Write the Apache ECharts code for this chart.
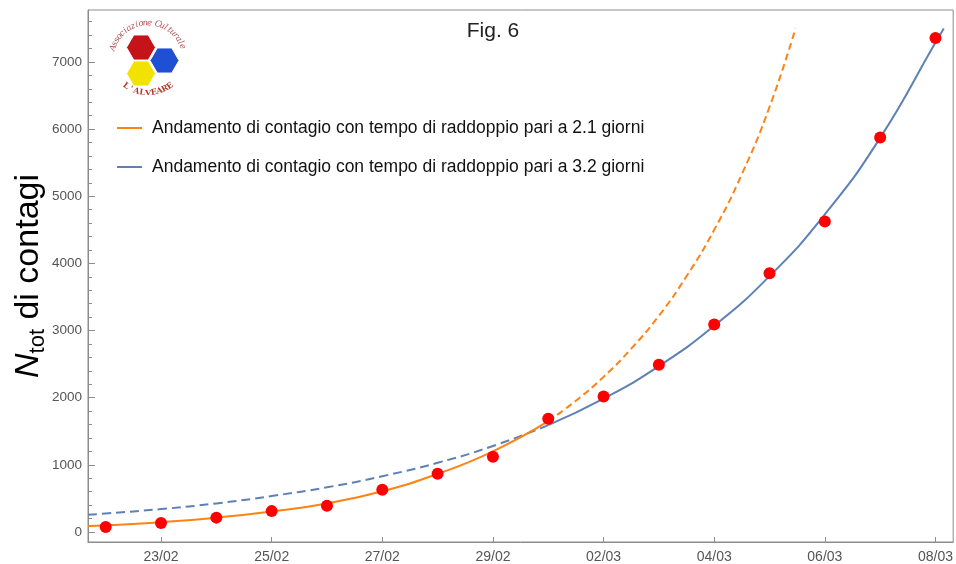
<!DOCTYPE html>
<html><head><meta charset="utf-8">
<script src="https://cdn.jsdelivr.net/npm/echarts@6/dist/echarts.min.js"></script>
<style>html,body{margin:0;padding:0;background:#fff}#chart{width:956px;height:564px}</style>
</head><body><div id="chart"></div>
<script>
// ---- data ----
const dateLabels = ['22/02','23/02','24/02','25/02','26/02','27/02','28/02','29/02','01/03','02/03','03/03','04/03','05/03','06/03','07/03','08/03'];
const tickDays = [1, 3, 5, 7, 9, 11, 13, 15];
const yTickValues = [0, 1000, 2000, 3000, 4000, 5000, 6000, 7000];
const caseDays = [0, 1, 2, 3, 4, 5, 6, 7, 8, 9, 10, 11, 12, 13, 14, 15];
const cases = [74, 133, 213, 310, 390, 627, 867, 1119, 1685, 2016, 2489, 3089, 3853, 4626, 5877, 7359];

const orangeSolidX = [-0.32, 0, 1, 2, 3, 4, 5, 6, 7, 8];
const orangeSolidY = [88, 98, 145, 213, 305, 425, 605, 865, 1200, 1650];
const orangeDashX = [8, 8.5, 9, 9.5, 10, 10.5, 11, 11.5, 12, 12.47];
const orangeDashY = [1650, 1955, 2310, 2730, 3220, 3810, 4500, 5330, 6330, 7500];

const blueDashX = [-0.32, 0, 1, 2, 3, 4, 5, 6, 7, 8];
const blueDashY = [255, 275, 340, 425, 535, 665, 830, 1030, 1280, 1590];
const blueSolidX = [8, 9, 10, 11, 12, 13, 14, 15, 15.15];
const blueSolidY = [1590, 1985, 2470, 3070, 3810, 4730, 5870, 7290, 7500];

const nameOrange = 'Andamento di contagio con tempo di raddoppio pari a 2.1 giorni';
const nameBlue = 'Andamento di contagio con tempo di raddoppio pari a 3.2 giorni';

// ---- helpers ----
const zip = (xs, ys) => xs.map((x, i) => [x, ys[i]]);
const ORANGE = '#ff8214', BLUE = '#5e81b5', RED = '#ff0000', AXIS = '#8c8c8c', LABEL = '#555';

const minorY = [];
for (let v = 0; v <= 7600; v += 200) if (v % 1000 !== 0) minorY.push(v);

function hexagon(cx, cy, r, color) {
  const pts = [];
  for (let k = 0; k < 6; k++) { const a = Math.PI / 3 * k; pts.push([cx + r * Math.cos(a), cy + r * Math.sin(a)]); }
  return { type: 'polygon', shape: { points: pts }, style: { fill: color, stroke: '#fff', lineWidth: 1 }, z: 10 };
}
function arcText(str, cx, cy, R, a0, a1, top, font, color) {
  const els = []; const n = str.length;
  for (let i = 0; i < n; i++) {
    const t = a0 + (a1 - a0) * (i + 0.5) / n;
    let x, y, rot;
    if (top) { x = cx + R * Math.sin(t); y = cy - R * Math.cos(t); rot = -t; }
    else { x = cx + R * Math.sin(t); y = cy + R * Math.cos(t); rot = t; }
    els.push({ type: 'text', x: x, y: y, rotation: rot, z: 10,
      style: { text: str[i], font: font, fill: color, align: 'center', verticalAlign: 'middle' } });
  }
  return els;
}
const deg = Math.PI / 180;

const logo = [].concat(
  [hexagon(141, 47.5, 14.5, '#c4141a'), hexagon(164.5, 60.5, 14.5, '#1f4fd3'), hexagon(141, 73.5, 14.5, '#f2e200')],
  arcText('Associazione Culturale', 148, 60, 37, -74 * deg, 72 * deg, true, 'italic 8.5px "DejaVu Serif"', '#b25252'),
  arcText("L'ALVEARE", 148, 55, 38, -40 * deg, 40 * deg, false, 'bold 8px "DejaVu Serif"', '#b3392f')
);

const chart = echarts.init(document.getElementById('chart'), null, { renderer: 'canvas' });
chart.setOption({
  animation: false,
  backgroundColor: '#fff',
  textStyle: { fontFamily: '"Liberation Sans", Arial, sans-serif' },
  grid: { left: 88, top: 10, width: 867, height: 536, show: true, borderColor: AXIS, borderWidth: 1, containLabel: false },
  legend: {
    orient: 'vertical', left: 117, top: 118, padding: 0, itemWidth: 25, itemHeight: 2, itemGap: 19,
    textStyle: { fontSize: 17.5, color: '#111', lineHeight: 20, padding: [0, 0, 0, 5] },
    data: [{ name: nameOrange, icon: 'rect' }, { name: nameBlue, icon: 'rect' }]
  },
  xAxis: {
    type: 'value', min: -0.32, max: 15.32,
    axisLine: { show: true, onZero: false, lineStyle: { color: AXIS, width: 1 } },
    splitLine: { show: false },
    axisTick: { show: true, inside: true, length: 5, lineStyle: { color: AXIS }, customValues: tickDays },
    axisLabel: { customValues: tickDays, fontSize: 14, color: LABEL, margin: 8,
      formatter: v => dateLabels[Math.round(v)] }
  },
  yAxis: [{
    type: 'value', min: -150, max: 7775, position: 'left',
    axisLine: { show: true, onZero: false, lineStyle: { color: AXIS, width: 1 } },
    splitLine: { show: false },
    axisTick: { show: true, inside: true, length: 7, lineStyle: { color: AXIS }, customValues: yTickValues },
    axisLabel: { customValues: yTickValues, fontSize: 13.5, color: LABEL, margin: 6, formatter: v => String(v) }
  }, {
    type: 'value', min: -150, max: 7775, position: 'left', offset: 0,
    axisLine: { show: false, onZero: false }, splitLine: { show: false },
    axisTick: { show: true, inside: true, length: 4, lineStyle: { color: AXIS }, customValues: minorY },
    axisLabel: { show: false }
  }],
  graphic: [
    { type: 'text', x: 493, y: 31, z: 10, style: { text: 'Fig. 6', font: '21px "Liberation Sans"', fill: '#222', align: 'center', verticalAlign: 'middle' } },
    { type: 'text', x: 29, y: 276, rotation: Math.PI / 2, z: 10,
      style: {
        text: '{n|N}{s|tot}{r| di contagi}', align: 'center', verticalAlign: 'middle',
        rich: {
          n: { fontFamily: '"Liberation Sans"', fontStyle: 'italic', fontSize: 34, lineHeight: 40, fill: '#000', verticalAlign: 'middle' },
          s: { fontFamily: '"Liberation Sans"', fontSize: 22, lineHeight: 26, fill: '#000', verticalAlign: 'bottom' },
          r: { fontFamily: '"Liberation Sans"', fontSize: 34, lineHeight: 40, fill: '#000', verticalAlign: 'middle' }
        }
      } }
  ].concat(logo),
  series: [
    { name: nameOrange, type: 'line', data: zip(orangeSolidX, orangeSolidY), showSymbol: false, smooth: 0.5,
      lineStyle: { color: ORANGE, width: 2 }, itemStyle: { color: ORANGE }, z: 3 },
    { name: 'orangeDashed', type: 'line', data: zip(orangeDashX, orangeDashY), showSymbol: false, smooth: 0.5,
      lineStyle: { color: ORANGE, width: 2, type: [7, 4] }, itemStyle: { color: ORANGE }, z: 3 },
    { name: 'blueDashed', type: 'line', data: zip(blueDashX, blueDashY), showSymbol: false, smooth: 0.5,
      lineStyle: { color: BLUE, width: 2, type: [9, 5] }, itemStyle: { color: BLUE }, z: 2 },
    { name: nameBlue, type: 'line', data: zip(blueSolidX, blueSolidY), showSymbol: false, smooth: 0.5,
      lineStyle: { color: BLUE, width: 2 }, itemStyle: { color: BLUE }, z: 2 },
    { name: 'dati', type: 'scatter', data: zip(caseDays, cases), symbol: 'circle', symbolSize: 12,
      itemStyle: { color: RED, opacity: 1 }, z: 5 }
  ]
});
</script>
</body></html>
